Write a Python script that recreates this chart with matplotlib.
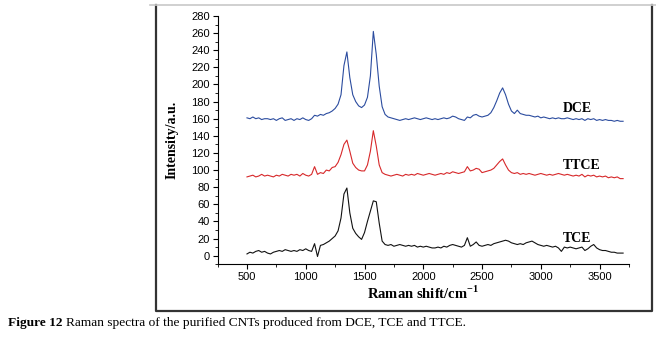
import numpy as np
import matplotlib
matplotlib.use("Agg")
import matplotlib.pyplot as plt
from matplotlib.lines import Line2D

plt.rcParams['mathtext.fontset'] = 'custom'
plt.rcParams['mathtext.rm'] = 'Liberation Serif'
plt.rcParams['mathtext.bf'] = 'Liberation Serif:bold'

# Raman shift grid (cm^-1), step 25
shift = np.arange(500, 3701, 25)

dce = [
    161, 160, 162, 160, 161, 159, 160, 160,
    159, 160, 158, 160, 161, 158, 159, 160,
    158, 160, 159, 161, 159, 158, 160, 164,
    163, 165, 164, 166, 167, 169, 172, 177,
    188, 222, 238, 208, 188, 180, 175, 173,
    176, 185, 210, 262, 235, 198, 174, 165,
    162, 161, 160, 159, 158, 159, 160, 159,
    160, 161, 160, 159, 160, 161, 160, 159,
    160, 159, 160, 161, 160, 161, 163, 162,
    160, 159, 158, 162, 161, 164, 165, 163,
    162, 163, 164, 167, 173, 181, 190, 196,
    188, 177, 169, 166, 170, 166, 165, 164,
    164, 163, 162, 163, 161, 162, 161, 160,
    161, 160, 161, 160, 160, 161, 160, 159,
    160, 159, 160, 158, 160, 159, 160, 158,
    159, 158, 159, 158, 158, 157, 158, 157,
    157,
]

ttce = [
    92, 93, 94, 92, 93, 95, 93, 94,
    93, 92, 94, 93, 95, 94, 93, 95,
    94, 95, 93, 96, 94, 93, 95, 104,
    95, 97, 96, 100, 99, 103, 104, 109,
    118, 130, 135, 122, 108, 103, 100, 99,
    99, 106, 122, 146, 128, 106, 97, 95,
    94, 93, 94, 95, 94, 93, 95, 94,
    95, 94, 96, 95, 94, 95, 96, 95,
    94, 95, 96, 95, 97, 96, 98, 97,
    96, 97, 98, 104, 99, 100, 102, 101,
    97, 98, 99, 100, 102, 106, 110, 113,
    106, 100, 97, 96, 97, 95, 96, 95,
    96, 95, 94, 95, 96, 95, 94, 95,
    94, 95, 96, 95, 94, 95, 94, 93,
    94, 93, 95, 92, 94, 93, 94, 92,
    93, 92, 93, 91, 92, 91, 92, 90,
    90,
]

tce = [
    2, 4, 3, 5, 6, 4, 5, 3,
    2, 4, 5, 6, 5, 7, 6, 5,
    6, 5, 7, 6, 8, 6, 5, 14,
    -1, 12, 13, 15, 17, 20, 23, 29,
    44, 72, 79, 50, 32, 26, 22, 19,
    27, 40, 52, 64, 63, 38, 17, 13,
    12, 13, 11, 12, 13, 12, 11, 12,
    11, 12, 10, 11, 10, 11, 10, 9,
    9, 10, 9, 11, 10, 12, 13, 12,
    11, 10, 12, 21, 11, 13, 16, 12,
    11, 12, 13, 12, 14, 15, 16, 17,
    18, 17, 15, 14, 13, 14, 13, 15,
    16, 17, 15, 13, 12, 11, 12, 11,
    10, 11, 9, 5, 10, 9, 10, 9,
    8, 9, 10, 6, 8, 11, 13, 9,
    7, 6, 6, 5, 4, 4, 3, 3,
    3,
]

labels = ["DCE", "TTCE", "TCE"]
label_pos = [(3315, 172), (3350, 105), (3305, 20)]
colors = ["#2b4c9f", "#d7282a", "#111111"]

fig = plt.figure(figsize=(6.56, 3.38), dpi=100)
ax = fig.add_axes([0.3317, 0.2183, 0.6271, 0.7344])

for series, c in zip([dce, ttce, tce], colors):
    ax.plot(shift, series, color=c, lw=0.8)

for name, (lx, ly) in zip(labels, label_pos):
    ax.text(lx, ly, name, ha="center", va="center", fontsize=10,
            fontweight="bold", family="Liberation Serif")

ax.set_xlim(250, 3750)
ax.set_ylim(-10, 280)
ax.set_xticks(np.arange(500, 3501, 500))
ax.set_xticks(np.arange(250, 3751, 250), minor=True)
ax.set_yticks(np.arange(0, 281, 20))
ax.set_yticks(np.arange(-10, 281, 10), minor=True)
for s in ["top", "right"]:
    ax.spines[s].set_visible(False)
for s in ["left", "bottom"]:
    ax.spines[s].set_linewidth(0.8)
ax.tick_params(which="major", direction="out", length=3.5, width=0.8,
               labelsize=8, pad=2)
ax.tick_params(which="minor", direction="out", length=2, width=0.6)
for lab in ax.get_xticklabels() + ax.get_yticklabels():
    lab.set_family("Liberation Sans")

ax.set_xlabel(r"Raman shift/cm$^{\mathbf{-1}}$", fontsize=10.5,
              fontweight="bold", family="Liberation Serif", labelpad=2)
ax.set_ylabel("Intensity/a.u.", fontsize=10, fontweight="bold",
              family="Liberation Serif", labelpad=9)

# outer frame around the chart
W, H = 656, 338
x0, x1 = 155.5 / W, 651.5 / W
y0, y1 = 1 - 311 / H, 1 - 5 / H
fig.add_artist(Line2D([x0, x0, x1, x1], [y1, y0, y0, y1],
                      color="#333333", lw=1.6, transform=fig.transFigure))
fig.add_artist(Line2D([150 / W, 1], [y1, y1], color="#c8c8c8", lw=1.2,
                      transform=fig.transFigure))

# caption
t1 = fig.text(8 / W, 1 - 323 / H, "Figure 12", fontsize=9.6, fontweight="bold",
              family="Liberation Serif", va="center", ha="left")
fig.canvas.draw()
bb = t1.get_window_extent(fig.canvas.get_renderer())
fig.text(bb.x1 / W + 3 / W, 1 - 323 / H,
         "Raman spectra of the purified CNTs produced from DCE, TCE and TTCE.",
         fontsize=9.6, family="Liberation Serif", va="center", ha="left")

fig.savefig("out.png", dpi=100)
